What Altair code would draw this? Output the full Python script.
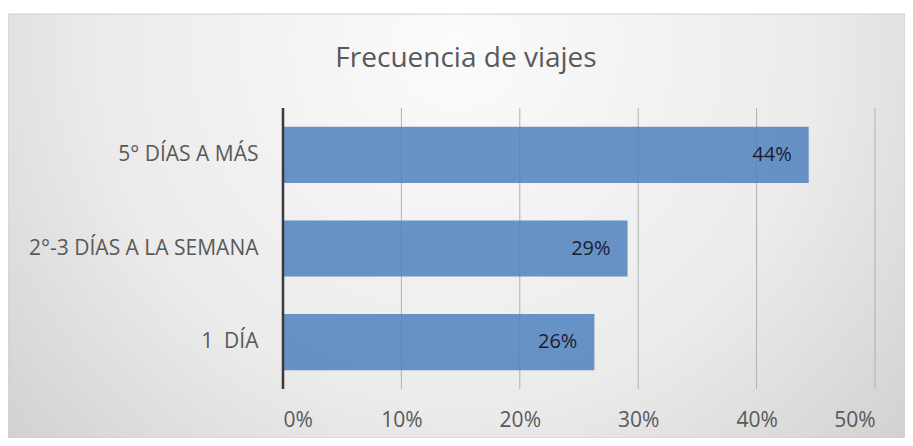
import altair as alt
import pandas as pd

# Data
categories = ["5° DÍAS A MÁS", "2°-3 DÍAS A LA SEMANA", "1\u00a0 DÍA"]
values = [0.444, 0.291, 0.263]
labels = ["44%", "29%", "26%"]
tick_values = [0, 0.1, 0.2, 0.3, 0.4, 0.5]
title_text = "Frecuencia de viajes"

df = pd.DataFrame({"cat": categories, "val": values, "lab": labels})
grid_df = pd.DataFrame({"t": tick_values[1:]})
zero_df = pd.DataFrame({"t": [0]})
bg_df = pd.DataFrame({"a": [0]})

W, H = 592, 281
FONT = "Open Sans"

x_scale = alt.Scale(domain=[0, 0.5], nice=False, zero=True)
y_scale = alt.Scale(domain=categories, paddingInner=0.4, paddingOuter=0.2)

grad = alt.RadialGradient(
    gradient="radial",
    stops=[
        alt.GradientStop(color="#fbfbfb", offset=0),
        alt.GradientStop(color="#ebebeb", offset=0.5),
        alt.GradientStop(color="#c4c4c4", offset=1),
    ],
    x1=0.5, y1=0.3, r1=0,
    x2=0.5, y2=0.3, r2=0.8,
)

bg = alt.Chart(bg_df).mark_rect(fill=grad, stroke="#d0d0d0", strokeWidth=1).encode(
    x=alt.value(-275), x2=alt.value(622), y=alt.value(-94), y2=alt.value(330)
)

grid = alt.Chart(grid_df).mark_rule(color="#b0b0b0", strokeWidth=1).encode(
    x=alt.X("t:Q", scale=x_scale)
)

bars = alt.Chart(df).mark_bar(color="#4f81bd", opacity=0.85).encode(
    y=alt.Y(
        "cat:N",
        sort=categories,
        scale=y_scale,
        title=None,
        axis=alt.Axis(
            domain=False, ticks=False, labelFontSize=21, labelColor="#595959",
            labelFont=FONT, labelPadding=25, zindex=2, labelLimit=400,
        ),
    ),
    x=alt.X(
        "val:Q",
        scale=x_scale,
        title=None,
        axis=alt.Axis(
            values=tick_values, format=".0%", grid=False, domain=False, ticks=False,
            labelFontSize=21, labelColor="#595959", labelFont=FONT,
            labelPadding=20, zindex=2,
        ),
    ),
)

text = alt.Chart(df).mark_text(
    align="right", baseline="middle", dx=-17, fontSize=20, font=FONT, color="#1c1c30"
).encode(
    y=alt.Y("cat:N", sort=categories, scale=y_scale),
    x=alt.X("val:Q", scale=x_scale),
    text="lab:N",
)

zero = alt.Chart(zero_df).mark_rule(color="#3a3a3a", strokeWidth=2.5).encode(
    x=alt.X("t:Q", scale=x_scale)
)

chart = alt.layer(bg, grid, bars, text, zero).properties(
    width=W,
    height=H,
    autosize=alt.AutoSizeParams(type="none"),
    padding={"left": 275, "top": 100, "right": 30, "bottom": 49},
    background="white",
    title=alt.TitleParams(
        title_text, font=FONT, fontSize=28, fontWeight="normal", color="#595959",
        anchor="middle", frame="group", dx=-113, dy=95, offset=36, zindex=3,
    ),
).configure_view(stroke=None)

chart.save("out.html", embed_options={"renderer": "svg", "actions": False})
